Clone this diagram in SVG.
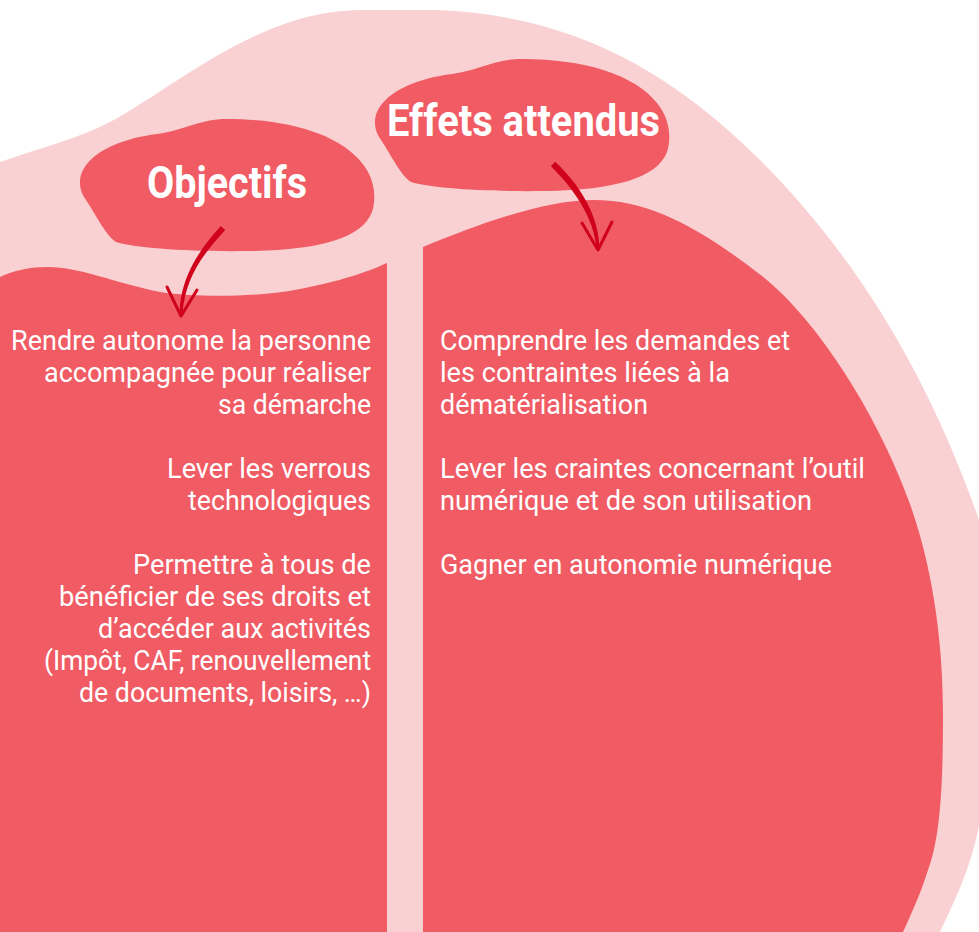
<svg xmlns="http://www.w3.org/2000/svg" width="979" height="932" viewBox="0 0 979 932">
<style>
.bg{fill:#f9d1d3}
.red{fill:#f05b64}
.arrow{fill:none;stroke:#d0021b;stroke-linecap:round;stroke-linejoin:round}
.shaft{fill:#d0021b}
.title{font-family:Roboto,"Liberation Sans",sans-serif;font-weight:700;font-size:44px;fill:#fff}
.body{font-family:Roboto,"Liberation Sans",sans-serif;font-size:27px;fill:#fff}
.l{text-anchor:end}
</style>
<rect width="979" height="932" fill="#fff"/>
<path class="bg" d="M0,162 C40,148 80,138 110,122 C160,95 220,45 290,22 C320,12 345,10 367,10 L437,10 C560,15 660,60 760,160 C860,260 930,380 979,520 L979,826 C970,870 955,900 940,932 L0,932 Z"/>
<g id="objectifs-panel">
<path class="red" d="M0,277 C15,270 30,267 48,267 C80,267 115,283 160,292 C200,298 260,297 300,289 C340,281 365,273 387,263 L387,932 L0,932 Z"/>
<text class="body l" x="371" y="350" textLength="360" lengthAdjust="spacingAndGlyphs">Rendre autonome la personne</text>
<text class="body l" x="371" y="382" textLength="327" lengthAdjust="spacingAndGlyphs">accompagnée pour réaliser</text>
<text class="body l" x="371" y="414" textLength="153" lengthAdjust="spacingAndGlyphs">sa démarche</text>
<text class="body l" x="371" y="478" textLength="204" lengthAdjust="spacingAndGlyphs">Lever les verrous</text>
<text class="body l" x="371" y="510" textLength="183" lengthAdjust="spacingAndGlyphs">technologiques</text>
<text class="body l" x="371" y="574" textLength="238" lengthAdjust="spacingAndGlyphs">Permettre à tous de</text>
<text class="body l" x="371" y="606" textLength="312" lengthAdjust="spacingAndGlyphs">bénéficier de ses droits et</text>
<text class="body l" x="371" y="638" textLength="273" lengthAdjust="spacingAndGlyphs">d’accéder aux activités</text>
<text class="body l" x="371" y="670" textLength="327" lengthAdjust="spacingAndGlyphs">(Impôt, CAF, renouvellement</text>
<text class="body l" x="371" y="702" textLength="292" lengthAdjust="spacingAndGlyphs">de documents, loisirs, …)</text>
</g>
<g id="effets-panel">
<path class="red" d="M423,247 C470,228 540,200 594,200 C650,200 700,228 762,276 C820,322 880,420 910,504 C935,575 943,650 943,714 C943,790 940,840 927,873 C920,895 912,912 903,932 L423,932 Z"/>
<text class="body" x="440" y="350" textLength="350" lengthAdjust="spacingAndGlyphs">Comprendre les demandes et</text>
<text class="body" x="440" y="382" textLength="290" lengthAdjust="spacingAndGlyphs">les contraintes liées à la</text>
<text class="body" x="440" y="414" textLength="208" lengthAdjust="spacingAndGlyphs">dématérialisation</text>
<text class="body" x="440" y="478" textLength="425" lengthAdjust="spacingAndGlyphs">Lever les craintes concernant l’outil</text>
<text class="body" x="440" y="510" textLength="372" lengthAdjust="spacingAndGlyphs">numérique et de son utilisation</text>
<text class="body" x="440" y="574" textLength="392" lengthAdjust="spacingAndGlyphs">Gagner en autonomie numérique</text>
</g>
<defs>
<path id="blob" d="M227,119 C290,119 340,135 362,163 C376,180 376,200 372,212 C362,238 320,250 250,251 C190,252 135,248 116,242 C106,236 96,215 86,200 C80,192 78,182 82,172 C92,150 125,138 157,134 C185,130 200,119 227,119 Z"/>
</defs>
<g id="objectifs-title">
<use href="#blob" class="red"/>
<text class="title" x="147" y="198" textLength="160" lengthAdjust="spacingAndGlyphs">Objectifs</text>
</g>
<g id="effets-title">
<use href="#blob" class="red" transform="translate(295,-60)"/>
<text class="title" x="387" y="136" textLength="273" lengthAdjust="spacingAndGlyphs">Effets attendus</text>
</g>
<g id="connectors">
<path class="shaft" d="M220.8,226 C202.8,246 180,275 179.5,314 L182.5,314 C185,275 207,250 225.2,230 Z"/>
<path class="arrow" stroke-width="3" d="M167,287 L181,316 L197,290"/>
<path class="shaft" d="M555.1,161.8 C578,183 599,214 599.5,249 L596.5,249 C594,216 572,187 550.9,166.2 Z"/>
<path class="arrow" stroke-width="3" d="M582,223 L598,250 L612,222"/>
</g>
</svg>
